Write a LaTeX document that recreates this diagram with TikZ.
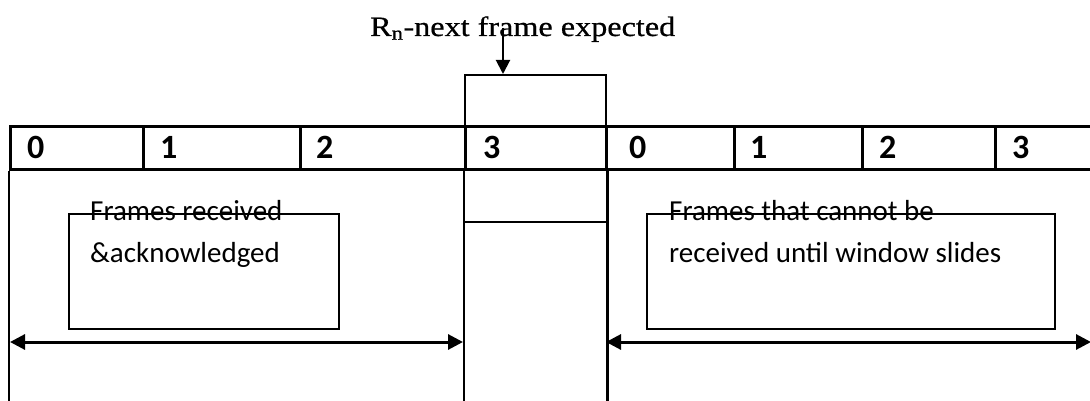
\documentclass[tikz,border=0pt]{standalone}
\usepackage{fontspec}
\setmainfont{Carlito}
\newfontfamily\titlefont[FakeStretch=1.15,FakeBold=0.6]{Liberation Serif}
\usetikzlibrary{arrows.meta}

\begin{document}
\begin{tikzpicture}[x=1pt,y=-1pt,
  gridline/.style={line width=2.6pt},
  cell/.style={draw, gridline, anchor=north west, inner sep=0pt, minimum height=43pt},
  boxline/.style={draw, line width=2pt, anchor=north west, inner sep=0pt},
  numlabel/.style={font=\fontsize{34}{34}\selectfont\bfseries, anchor=west, inner sep=0pt},
  note/.style={font=\fontsize{29}{42}\selectfont, align=left, anchor=base west, inner sep=0pt},
  pointer/.style={line width=2pt, -{Triangle[length=14pt,width=14pt]}},
  span/.style={line width=3pt, {Triangle[length=15pt,width=15pt]}-{Triangle[length=15pt,width=15pt]}},
]
\useasboundingbox (0,0) rectangle (1090,401);

% title and pointer to the expected slot
\node[font=\titlefont\fontsize{28}{28}\selectfont, anchor=base west, inner sep=0pt]
  (title) at (370,36) {R\textsubscript{n}-next frame expected};
\node[boxline, minimum width=141pt, minimum height=51pt] (slot) at (464,74) {};
\coordinate (ptr) at (503,28);
\draw[pointer] (ptr) -- (ptr |- slot.north);

% sequence-number row
\node[cell, minimum width=133pt] (c0) at (9,125) {};
\node[cell, minimum width=157pt] (c1) at (142,125) {};
\node[cell, minimum width=165pt] (c2) at (299,125) {};
\node[cell, minimum width=141pt] (c3) at (464,125) {};
\node[cell, minimum width=128pt] (c4) at (605,125) {};
\node[cell, minimum width=128pt] (c5) at (733,125) {};
\node[cell, minimum width=133pt] (c6) at (861,125) {};
\node[cell, minimum width=110pt] (c7) at (994,125) {};

\node[numlabel] (n0) at ([xshift=18pt]c0.west) {0};
\node[numlabel] (n1) at ([xshift=18pt]c1.west) {1};
\node[numlabel] (n2) at ([xshift=17pt]c2.west) {2};
\node[numlabel] (n3) at ([xshift=19pt]c3.west) {3};
\node[numlabel] (n4) at ([xshift=24pt]c4.west) {0};
\node[numlabel] (n5) at ([xshift=17pt]c5.west) {1};
\node[numlabel] (n6) at ([xshift=18pt]c6.west) {2};
\node[numlabel] (n7) at ([xshift=18pt]c7.west) {3};

% window boundaries below the row
\coordinate (bottom) at (0,401);
\draw[gridline] (c0.south west) -- (c0.south west |- bottom);
\draw[gridline] (c3.south west) -- (c3.south west |- bottom);
\draw[gridline] (c3.south east) -- (c3.south east |- bottom);
\coordinate (mid) at (0,222);
\draw[gridline] (c3.south west |- mid) -- (c3.south east |- mid);

% annotation boxes (text baseline given for the second line)
\node[boxline, minimum width=270pt, minimum height=115pt] (lbox) at (68,213) {};
\node[note] (ltext) at (90,262) {Frames received\\\&acknowledged};
\node[boxline, minimum width=408pt, minimum height=115pt] (rbox) at (646,213) {};
\node[note] (rtext) at (669,262) {Frames that cannot be\\received until window slides};

% extent arrows
\coordinate (la) at (10,342);
\coordinate (lb) at (463,342);
\coordinate (ra) at (606,342);
\coordinate (rb) at (1091,342);
\draw[span] (la) -- (lb);
\draw[span] (ra) -- (rb);
\end{tikzpicture}
\end{document}
